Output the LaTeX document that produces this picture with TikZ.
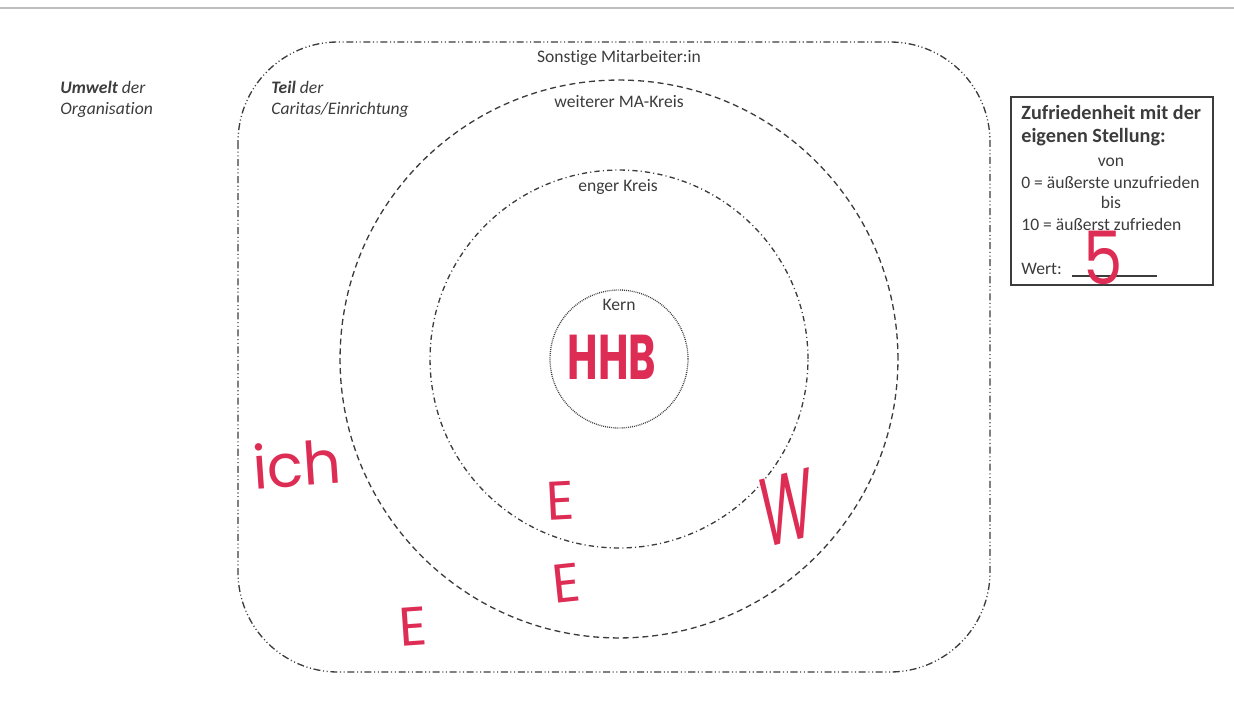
\documentclass[tikz,border=0pt]{standalone}
\usepackage{fontspec}
\setmainfont{Carlito}[Ligatures=NoCommon]
\newfontfamily\handfont{Poppins}
\usepackage{tikz}
\definecolor{inkgray}{RGB}{60,60,60}
\definecolor{rulegray}{RGB}{190,190,190}
\definecolor{marker}{RGB}{222,45,85}

\begin{document}
\begin{tikzpicture}[x=0.02cm, y=-0.02cm,
    zone/.style={draw=inkgray, line width=0.75pt},
    outerline/.style={zone, dash pattern=on 4pt off 1.5pt on 0.6pt off 1.5pt on 0.6pt off 1.5pt},
    wideline/.style={zone, dash pattern=on 3.4pt off 2.2pt},
    closeline/.style={zone, dash pattern=on 3pt off 1.8pt on 0.6pt off 1.8pt},
    coreline/.style={zone, dash pattern=on 0.5pt off 0.6pt},
    zonetext/.style={text=inkgray, inner sep=0pt, font=\fontsize{10}{11.5}\selectfont},
    hand/.style={text=marker, inner sep=0pt}]
    \useasboundingbox (0,0) rectangle (1234,706);

    % --- rule at the top of the page
    \draw[rulegray, line width=0.9pt] (0,8) -- (1234,8);

    % --- Organisation and circles
    \coordinate (mid) at (619,359);
    \draw[outerline, rounded corners=2cm] (238,42) rectangle (990,672);
    \draw[wideline] (mid) circle [radius=5.58cm];
    \draw[closeline] (mid) circle [radius=3.78cm];
    \draw[coreline] (mid) circle [radius=1.38cm];

    % Labels of the rings
    \node[zonetext, anchor=base] (sonst) at (619,63) {Sonstige Mitarbeiter:in};
    \node[zonetext, anchor=base] (weiter) at (619,108) {weiterer MA-Kreis};
    \node[zonetext, anchor=base] (eng) at (618,192) {enger Kreis};
    \node[zonetext, anchor=base] (kern) at (619,310) {Kern};

    % Outside and inside of the organisation (base = last line)
    \node[zonetext, anchor=base west, align=left] (umwelt) at (60,114)
        {\textit{\textbf{Umwelt} der}\\\textit{Organisation}};
    \node[zonetext, anchor=base west, align=left] (teil) at (271,114)
        {\textit{\textbf{Teil} der}\\\textit{Caritas/Einrichtung}};

    % --- Box: Zufriedenheit
    \node[draw=inkgray, line width=0.75pt, minimum width=4.04cm, minimum height=3.76cm,
        inner sep=0pt] (scalebox) at (1112,191) {};
    \node[zonetext, anchor=base west, align=left, font=\bfseries\fontsize{11.5}{13.6}\selectfont]
        (title) at (1021,143) {Zufriedenheit mit der\\eigenen Stellung:};
    \node[zonetext, anchor=base] (von) at (1111,166) {von};
    \node[zonetext, anchor=base west] (low) at (1021,188) {0 = äußerste unzufrieden};
    \node[zonetext, anchor=base] (bis) at (1111,208) {bis};
    \node[zonetext, anchor=base west] (high) at (1021,230) {10 = äußerst zufrieden};
    \node[zonetext, anchor=base west] (wert) at (1021,274) {Wert:};
    \draw[inkgray, line width=0.6pt] (1072,276) -- (1157,276);

    % --- Handwritten entries
    \node[hand, font=\handfont\fontsize{42}{42}\selectfont, xscale=0.85] (five) at (1103,258) {5};
    \node[hand, font=\handfont\bfseries\fontsize{36}{36}\selectfont, xscale=0.66] (hhb) at (612,357) {HHB};
    \node[hand, font=\handfont\fontsize{34}{34}\selectfont, rotate=4] (ich) at (297,464) {ich};
    \node[hand, font=\handfont\fontsize{31}{31}\selectfont, rotate=3] (e1) at (560,501) {E};
    \node[hand, font=\handfont\fontsize{31}{31}\selectfont, rotate=6] (e2) at (566,583) {E};
    \node[hand, font=\handfont\fontsize{31}{31}\selectfont, rotate=4] (e3) at (413,627) {E};
    \node[hand, font=\handfont\fontsize{56}{56}\selectfont, xscale=0.55, rotate=8] (w) at (787,508) {W};
\end{tikzpicture}
\end{document}
